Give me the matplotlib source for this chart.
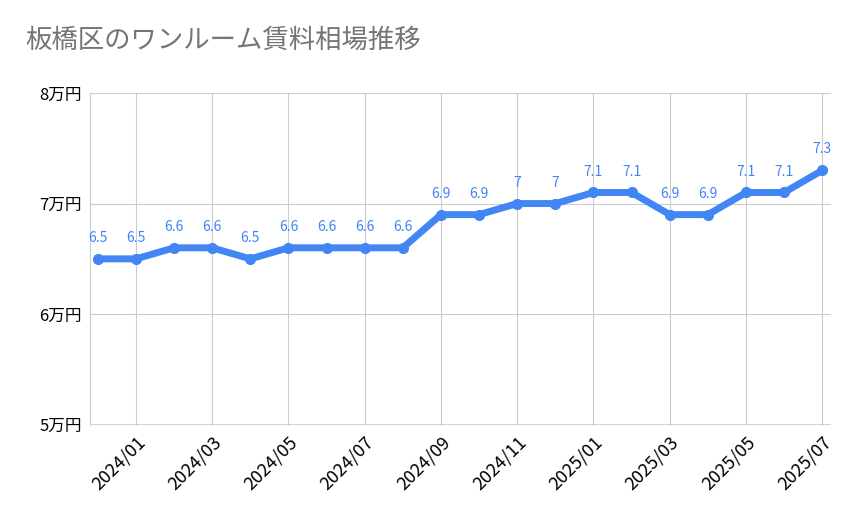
import matplotlib
matplotlib.use("Agg")
import matplotlib.pyplot as plt

plt.rcParams["font.family"] = ["Noto Sans CJK JP"]

months = ["2023/12", "2024/01", "2024/02", "2024/03", "2024/04", "2024/05", "2024/06",
          "2024/07", "2024/08", "2024/09", "2024/10", "2024/11", "2024/12", "2025/01",
          "2025/02", "2025/03", "2025/04", "2025/05", "2025/06", "2025/07"]
rent = [6.5, 6.5, 6.6, 6.6, 6.5, 6.6, 6.6, 6.6, 6.6, 6.9, 6.9, 7, 7, 7.1, 7.1,
        6.9, 6.9, 7.1, 7.1, 7.3]
yticks = [5, 6, 7, 8]
ytick_labels = ["5万円", "6万円", "7万円", "8万円"]

fig = plt.figure(figsize=(8.59, 5.31), dpi=100)
ax = fig.add_axes([0.105, 0.2, 0.862, 0.625])

x = list(range(len(months)))
color = "#4285f4"
ax.plot(x, rent, color=color, linewidth=5, marker="o", markersize=7, zorder=3)
for xi, v in zip(x, rent):
    ax.annotate(f"{v:g}", (xi, v), xytext=(0, 10), textcoords="offset points",
                ha="center", va="bottom", color=color, fontsize=10)

ax.set_xlim(-0.2, len(months) - 0.78)
ax.set_ylim(5, 8)
ax.set_yticks(yticks)
ax.set_yticklabels(ytick_labels, fontsize=12)
tick_pos = [i for i, m in enumerate(months) if int(m[-2:]) % 2 == 1]
ax.set_xticks(tick_pos)
ax.set_xticklabels([months[i] for i in tick_pos], rotation=45, ha="right",
                   rotation_mode="anchor", fontsize=13)
ax.grid(True, color="#cccccc", linewidth=0.8)
for s in ["top", "right", "bottom"]:
    ax.spines[s].set_visible(False)
ax.spines["left"].set_color("#cccccc")
ax.tick_params(axis="both", length=0, pad=6)
ax.axhline(5, color="#333333", linewidth=1)

fig.text(0.03, 0.91, "板橋区のワンルーム賃料相場推移", fontsize=19, color="#757575")
fig.savefig("out.png", dpi=100)
